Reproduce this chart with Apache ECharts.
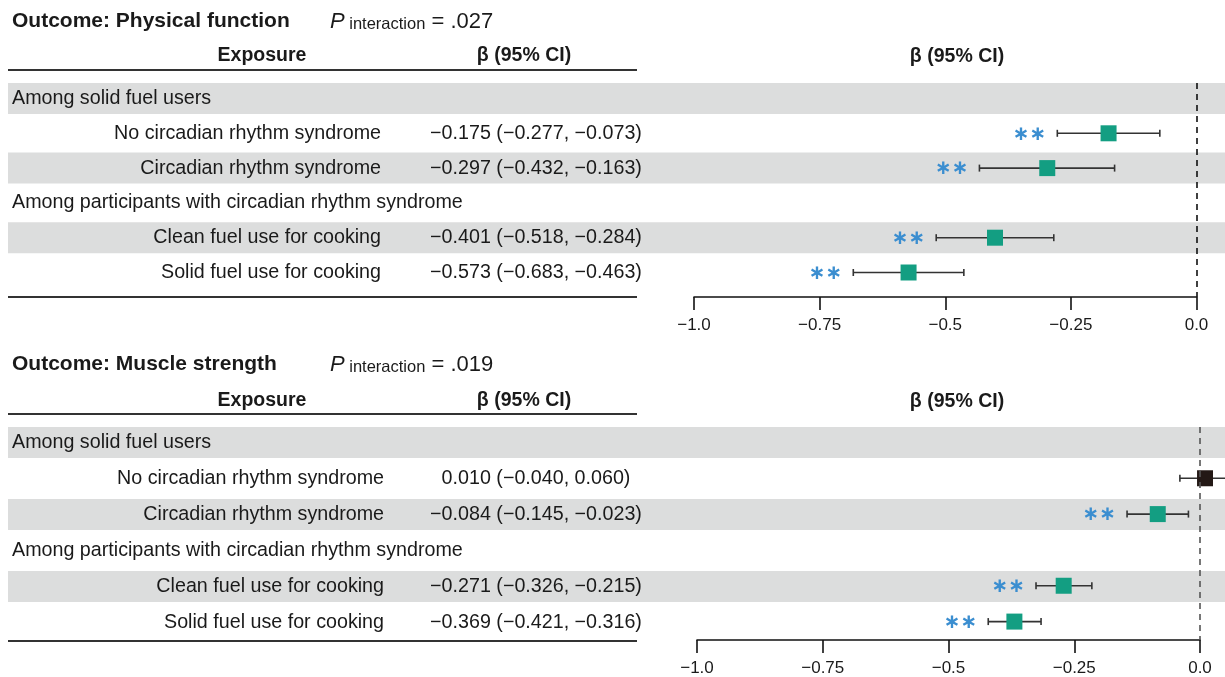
<!DOCTYPE html>
<html>
<head>
<meta charset="utf-8">
<style>
  html, body { margin: 0; padding: 0; background: #ffffff; }
  #chart { width: 1225px; height: 677px; }
</style>
<script src="https://cdn.jsdelivr.net/npm/echarts@6/dist/echarts.min.js"></script>
</head>
<body>
<div id="chart"></div>
<script>
// Row structure shared by both outcome panels
const rowLabels = [
  'Among solid fuel users',
  'No circadian rhythm syndrome',
  'Circadian rhythm syndrome',
  'Among participants with circadian rhythm syndrome',
  'Clean fuel use for cooking',
  'Solid fuel use for cooking'
];
const rowIsHeading = [true, false, false, true, false, false];

const outcomeNames = ['Physical function', 'Muscle strength'];
const pInteraction = ['.027', '.019'];

// Physical function: β and 95% CI
const physBeta  = [null, -0.175, -0.297, null, -0.401, -0.573];
const physLower = [null, -0.277, -0.432, null, -0.518, -0.683];
const physUpper = [null, -0.073, -0.163, null, -0.284, -0.463];
const physSig   = ['', '**', '**', '', '**', '**'];

// Muscle strength: β and 95% CI
const muscBeta  = [null, 0.010, -0.084, null, -0.271, -0.369];
const muscLower = [null, -0.040, -0.145, null, -0.326, -0.421];
const muscUpper = [null, 0.060, -0.023, null, -0.215, -0.316];
const muscSig   = ['', '', '**', '', '**', '**'];

const xTickLabels = ['\u22121.0', '\u22120.75', '\u22120.5', '\u22120.25', '0.0'];
const xMin = -1, xMax = 0, xStep = 0.25;

const FONT = '"Liberation Sans", Arial, sans-serif';
const TEXT = '#1a1a1a';
const BAND = '#dcdddd';
const SIG_COLOR = '#139e82';
const NS_COLOR = '#231815';
const STAR_COLOR = '#3b8ed0';

function fmt(v) {
  const s = Math.abs(v).toFixed(3);
  return (v < 0 ? '\u2212' : '') + s;
}

// Panel geometry (pixels)
const panels = [
  { beta: physBeta, lower: physLower, upper: physUpper, sig: physSig,
    titleY: 22, headY: 56, ruleTop: 70, top: 83, bottomY: 297,
    firstRow: 98.5, rowStep: 34.8, plotLeft: 694, plotRight: 1196.5, labelRight: 381 },
  { beta: muscBeta, lower: muscLower, upper: muscUpper, sig: muscSig,
    titleY: 365, headY: 401, ruleTop: 414, top: 427, bottomY: 641,
    firstRow: 442.5, rowStep: 36, plotLeft: 697, plotRight: 1200, labelRight: 384 }
];

const BODY = '19.7px ' + FONT;
const HEAD = 'bold 19.5px ' + FONT;

const W = 1225, H = 677;
const grids = [], xAxes = [], yAxes = [], series = [], graphics = [];

panels.forEach((p, k) => {
  const yMin = (p.top - p.firstRow) / p.rowStep;
  const yMax = (p.bottomY - p.firstRow) / p.rowStep;
  const bandHalf = 15.5 / p.rowStep;

  // table grid spanning the full width (bands + text columns)
  const gTable = grids.length;
  grids.push({ left: 8, right: 0, top: p.top, bottom: H - p.bottomY, containLabel: false });
  xAxes.push({ gridIndex: gTable, type: 'value', min: 0, max: 1, show: false });
  yAxes.push({ gridIndex: gTable, type: 'value', min: yMin, max: yMax, inverse: true, show: false });

  // forest plot grid
  const gPlot = grids.length;
  grids.push({ left: p.plotLeft, right: W - p.plotRight, top: p.top, bottom: H - p.bottomY, containLabel: false });
  xAxes.push({
    gridIndex: gPlot, type: 'value', min: xMin, max: xMax, interval: xStep,
    position: 'bottom',
    axisLine: { show: true, onZero: false, lineStyle: { color: '#111', width: 1.6 } },
    axisTick: { show: true, length: 13, lineStyle: { color: '#111', width: 1.6 } },
    axisLabel: {
      margin: 20, fontSize: 17, color: TEXT, fontFamily: FONT,
      formatter: v => xTickLabels[Math.round((v - xMin) / xStep)]
    },
    splitLine: { show: false }
  });
  yAxes.push({ gridIndex: gPlot, type: 'value', min: yMin, max: yMax, inverse: true, show: false });

  // bands and table text
  series.push({
    type: 'custom', xAxisIndex: gTable, yAxisIndex: gTable, clip: false, silent: true, z: 1,
    data: rowLabels.map((_, i) => [0.5, i]),
    renderItem: (params, api) => {
      const i = api.value(1);
      const cs = params.coordSys;
      const y = api.coord([0, i])[1];
      const rowH = api.size([0, 1])[1];
      const children = [];
      if (i % 2 === 0) {
        children.push({ type: 'rect',
          shape: { x: cs.x, y: y - bandHalf * rowH, width: cs.width, height: 2 * bandHalf * rowH },
          style: { fill: BAND } });
      }
      if (rowIsHeading[i]) {
        children.push({ type: 'text', x: 12, y: y,
          style: { text: rowLabels[i], font: BODY, fill: TEXT, align: 'left', verticalAlign: 'middle' } });
      } else {
        children.push({ type: 'text', x: p.labelRight, y: y,
          style: { text: rowLabels[i], font: BODY, fill: TEXT, align: 'right', verticalAlign: 'middle' } });
        const txt = fmt(p.beta[i]) + ' (' + fmt(p.lower[i]) + ', ' + fmt(p.upper[i]) + ')';
        children.push({ type: 'text', x: 536, y: y,
          style: { text: txt, font: BODY, fill: TEXT, align: 'center', verticalAlign: 'middle' } });
      }
      return { type: 'group', children };
    }
  });

  // confidence intervals with caps and significance stars
  const ciData = [];
  p.beta.forEach((b, i) => { if (b !== null) ciData.push([b, i, p.lower[i], p.upper[i], i]); });
  series.push({
    type: 'custom', xAxisIndex: gPlot, yAxisIndex: gPlot, clip: false, silent: true, z: 3,
    data: ciData,
    renderItem: (params, api) => {
      const row = api.value(1);
      const a = api.coord([api.value(2), row]);
      const b = api.coord([api.value(3), row]);
      const cap = 3.5;
      const line = { stroke: '#333', lineWidth: 1.6 };
      const children = [
        { type: 'line', shape: { x1: a[0], y1: a[1], x2: b[0], y2: b[1] }, style: line },
        { type: 'line', shape: { x1: a[0], y1: a[1] - cap, x2: a[0], y2: a[1] + cap }, style: line },
        { type: 'line', shape: { x1: b[0], y1: b[1] - cap, x2: b[0], y2: b[1] + cap }, style: line }
      ];
      const stars = p.sig[api.value(4)].replace(/\*/g, '\u2217');
      if (stars) {
        children.push({ type: 'text', x: a[0] - 11, y: a[1] + 1,
          style: { text: stars, font: 'bold 20px "DejaVu Sans", sans-serif', fill: STAR_COLOR,
                   align: 'right', verticalAlign: 'middle' } });
      }
      return { type: 'group', children };
    }
  });

  // point estimates and the null reference line
  series.push({
    type: 'scatter', xAxisIndex: gPlot, yAxisIndex: gPlot, clip: false, silent: true, z: 4,
    symbol: 'rect', symbolSize: 16,
    data: p.beta.map((b, i) => b === null ? null : { value: [b, i],
      itemStyle: { color: p.sig[i] ? SIG_COLOR : NS_COLOR, opacity: 1 } }).filter(d => d),
    markLine: {
      silent: true, symbol: ['none', 'none'], label: { show: false },
      lineStyle: { type: [6, 5], color: k === 0 ? '#111' : '#555', width: 1.6 },
      data: [{ xAxis: 0 }]
    }
  });

  // titles, column headers and rules
  graphics.push({ type: 'text', left: 12, top: p.titleY - 11,
    style: { text: 'Outcome: ' + outcomeNames[k], font: 'bold 21px ' + FONT, fill: TEXT } });
  graphics.push({ type: 'text', left: 330, top: p.titleY - 11,
    style: {
      text: '{i|P}{s| interaction}{n| = ' + pInteraction[k] + '}',
      rich: {
        i: { font: 'italic 22px ' + FONT, fill: TEXT, verticalAlign: 'bottom' },
        s: { font: '16.5px ' + FONT, fill: TEXT, verticalAlign: 'bottom' },
        n: { font: '22px ' + FONT, fill: TEXT, verticalAlign: 'bottom' }
      }
    } });
  graphics.push({ type: 'text', x: 262, y: p.headY,
    style: { text: 'Exposure', font: HEAD, fill: TEXT, align: 'center', verticalAlign: 'middle' } });
  graphics.push({ type: 'text', x: 524, y: p.headY,
    style: { text: '\u03b2 (95% CI)', font: HEAD, fill: TEXT, align: 'center', verticalAlign: 'middle' } });
  graphics.push({ type: 'text', x: 957, y: p.headY + 1,
    style: { text: '\u03b2 (95% CI)', font: HEAD, fill: TEXT, align: 'center', verticalAlign: 'middle' } });
  [p.ruleTop, p.bottomY].forEach(yy => {
    graphics.push({ type: 'line', shape: { x1: 8, y1: yy, x2: 637, y2: yy },
      style: { stroke: '#333', lineWidth: 2 } });
  });
});

const chart = echarts.init(document.getElementById('chart'), null, { renderer: 'canvas' });
chart.setOption({
  backgroundColor: '#ffffff',
  animation: false,
  textStyle: { fontFamily: FONT },
  grid: grids,
  xAxis: xAxes,
  yAxis: yAxes,
  series: series,
  graphic: graphics
});
</script>
</body>
</html>
